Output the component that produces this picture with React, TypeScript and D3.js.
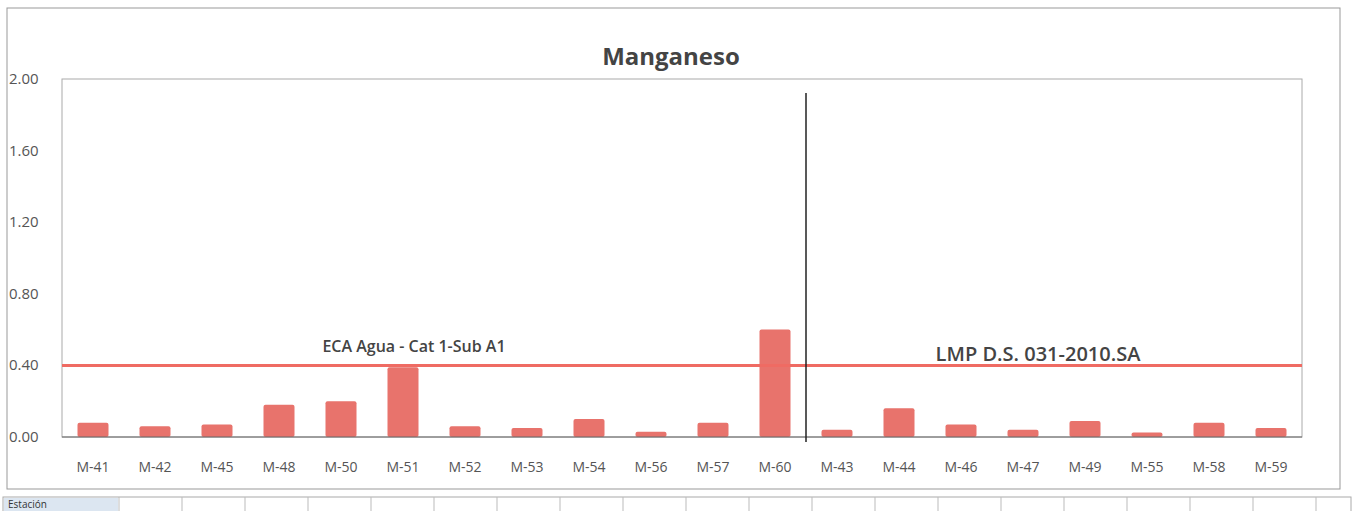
import React from "react";
import * as d3 from "d3";

const categories = ["M-41","M-42","M-45","M-48","M-50","M-51","M-52","M-53","M-54","M-56","M-57","M-60","M-43","M-44","M-46","M-47","M-49","M-55","M-58","M-59"];
const values = [0.08,0.06,0.07,0.18,0.20,0.39,0.06,0.05,0.10,0.03,0.08,0.60,0.04,0.16,0.07,0.04,0.09,0.025,0.08,0.05];
const yTicks = [0, 0.4, 0.8, 1.2, 1.6, 2.0];
const limitValue = 0.4;
const title = "Manganeso";
const ecaLabel = "ECA Agua - Cat 1-Sub A1";
const lmpLabel = "LMP D.S. 031-2010.SA";
const splitCategory = "M-43";
const tableHeader = "Estación";

const W = 1354, H = 511;
const FONT = "'Open Sans', 'Noto Sans', sans-serif";

export default function App() {
  const x = d3.scaleBand<string>().domain(categories).range([62, 1302]).paddingInner(0.5).paddingOuter(0.25);
  const y = d3.scaleLinear().domain([0, 2]).range([437, 79]);
  const splitX = (x(splitCategory) as number) - (x.step() * 0.5) / 2;
  const cellXs = d3.range(0, 20).map((i) => 119 + i * 63);
  return (
    <svg width={W} height={H} style={{ position: "absolute", left: 0, top: 0, background: "#fff" }} fontFamily={FONT}>
      <rect x={0} y={0} width={W} height={H} fill="#fff" />
      <rect x={7} y={8} width={1333} height={481} fill="none" stroke="#999" strokeWidth={1} />
      <text x={671} y={65} textAnchor="middle" fontSize={24} fontWeight={700} fill="#444">{title}</text>
      <rect x={62} y={y(2)} width={1240} height={y(0) - y(2)} fill="none" stroke="#aaa" strokeWidth={1} />
      {yTicks.map((t) => (
        <text key={t} x={9} y={y(t) + 5} fontSize={15} fill="#555">{t.toFixed(2)}</text>
      ))}
      {categories.map((c, i) => (
        <rect key={c} x={x(c)} y={y(values[i])} width={x.bandwidth()} height={y(0) - y(values[i])} fill="#E8736C" rx={2} />
      ))}
      <line x1={62} x2={1302} y1={y(0)} y2={y(0)} stroke="#666" strokeWidth={1} />
      <line x1={62} x2={1302} y1={y(limitValue)} y2={y(limitValue)} stroke="#EF6B63" strokeWidth={3} />
      <line x1={splitX} x2={splitX} y1={y(2) + 14} y2={y(0) + 5} stroke="#222" strokeWidth={1.5} />
      {categories.map((c) => (
        <text key={c} x={(x(c) as number) + x.bandwidth() / 2} y={472} textAnchor="middle" fontSize={14} fill="#555">{c}</text>
      ))}
      <text x={414} y={352} textAnchor="middle" fontSize={16} fontWeight={600} fill="#444">{ecaLabel}</text>
      <text x={1038} y={361} textAnchor="middle" fontSize={20} fontWeight={600} fill="#444">{lmpLabel}</text>
      <rect x={3} y={497} width={W - 6} height={20} fill="none" stroke="#aaa" strokeWidth={1} />
      <rect x={4} y={498} width={114} height={19} fill="#DCE6F1" />
      <text x={8} y={508} fontSize={10} fill="#333">{tableHeader}</text>
      {cellXs.map((cx) => (
        <line key={cx} x1={cx} x2={cx} y1={497} y2={511} stroke="#bbb" strokeWidth={1} />
      ))}
    </svg>
  );
}
